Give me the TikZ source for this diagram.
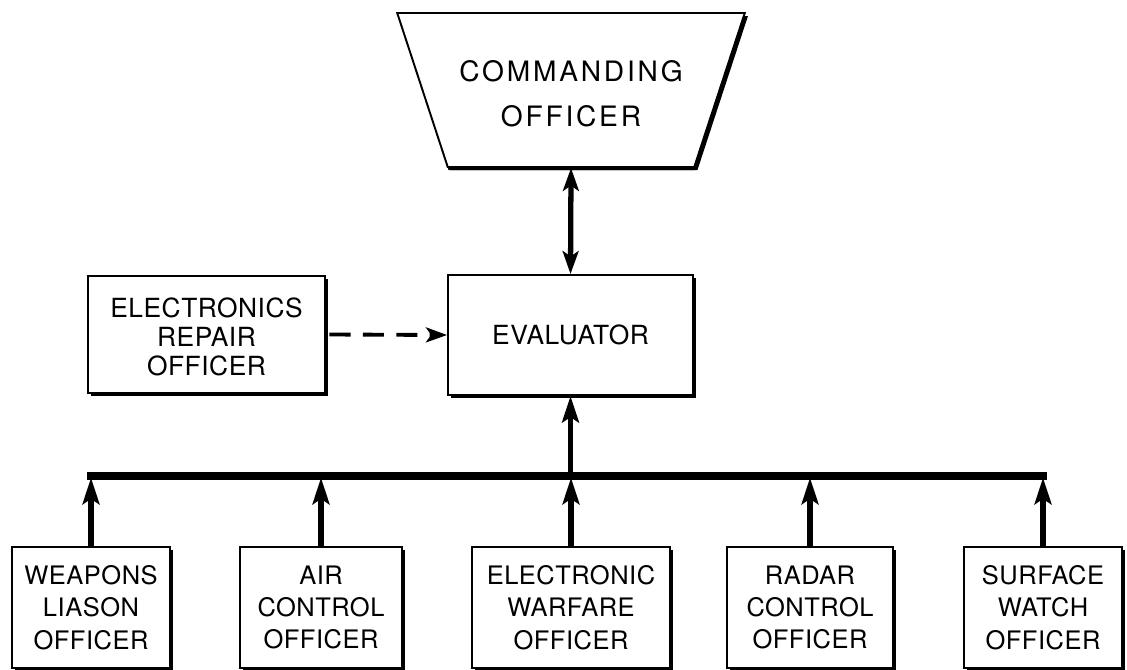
\documentclass[tikz,border=0pt]{standalone}
\usepackage{fontspec}
\newfontfamily\lettering[LetterSpace=2]{TeX Gyre Heros}
\newfontfamily\widelettering[LetterSpace=10]{TeX Gyre Heros}
\usetikzlibrary{arrows.meta,positioning,calc,shapes.geometric,shadows}

\tikzset{
  unit/.style={rectangle, draw, line width=1.1pt, fill=white, align=center,
    font=\lettering\fontsize{15}{19}\selectfont,
    drop shadow={shadow xshift=1.8pt, shadow yshift=-1.8pt, fill=black, opacity=1}},
  post/.style={unit, minimum height=2.42cm, font=\lettering\fontsize{14.5}{18.4}\selectfont},
  flow/.style={line width=3pt, -{Stealth[length=15pt,width=9.5pt,inset=3pt]}},
}

\begin{document}
\begin{tikzpicture}
\useasboundingbox (0,0) rectangle (22.54,-13.40);

% commanding officer (inverted trapezium)
\node[unit, trapezium, shape border rotate=180, trapezium angle=60.5,
      trapezium stretches=true, minimum width=6.96cm, minimum height=3.08cm,
      drop shadow={shadow xshift=0.5pt, shadow yshift=-1.8pt, fill=black, opacity=1},
      font=\widelettering\fontsize{16}{25.5}\selectfont]
      (co) at (11.42, -1.80) {\rule{0pt}{16pt}COMMANDING\\OFFICER};

% middle row
\node[unit, minimum width=4.90cm, minimum height=2.40cm] (eval) at (11.41, -6.70) {EVALUATOR};
\node[unit, minimum width=4.74cm, minimum height=2.34cm, font=\lettering\fontsize{15}{16.3}\selectfont]
      (repair) at (4.13, -6.69) {\rule{0pt}{14pt}ELECTRONICS\\REPAIR\\OFFICER};

% bottom row
\node[post, minimum width=3.16cm] (weap) at (1.82, -12.15) {WEAPONS\\LIASON\\OFFICER};
\node[post, minimum width=3.24cm] (air) at (6.42, -12.15) {AIR\\CONTROL\\OFFICER};
\node[post, minimum width=3.96cm] (ew) at (11.42, -12.15) {ELECTRONIC\\WARFARE\\OFFICER};
\node[post, minimum width=3.32cm] (radar) at (16.20, -12.15) {RADAR\\CONTROL\\OFFICER};
\node[post, minimum width=3.16cm] (surf) at (20.86, -12.15) {SURFACE\\WATCH\\OFFICER};

% collecting bus
\coordinate (bus) at (11.41, -9.52);
\draw[line width=4pt] ($(weap.north |- bus)+(-0.08,0)$) -- ($(surf.north |- bus)+(0.08,0)$);

% reports up to the bus
\foreach \n in {weap,air,ew,radar,surf}
    \draw[flow, shorten >=1pt] (\n.north) -- (\n.north |- bus);

% bus to evaluator, evaluator to commanding officer
\draw[flow] (eval.south |- bus) -- (eval.south);
\draw[line width=3pt, {Stealth[length=13pt,width=9pt,inset=3pt]}-{Stealth[length=13pt,width=9pt,inset=3pt]}]
    (co.south) -- (eval.north);

% repair officer advises evaluator
\draw[line width=2.2pt, dash pattern=on 12pt off 7pt, -{Stealth[length=12pt,width=8.5pt,inset=3pt]}]
    ([xshift=2pt]repair.east) -- (eval.west);
\end{tikzpicture}
\end{document}
